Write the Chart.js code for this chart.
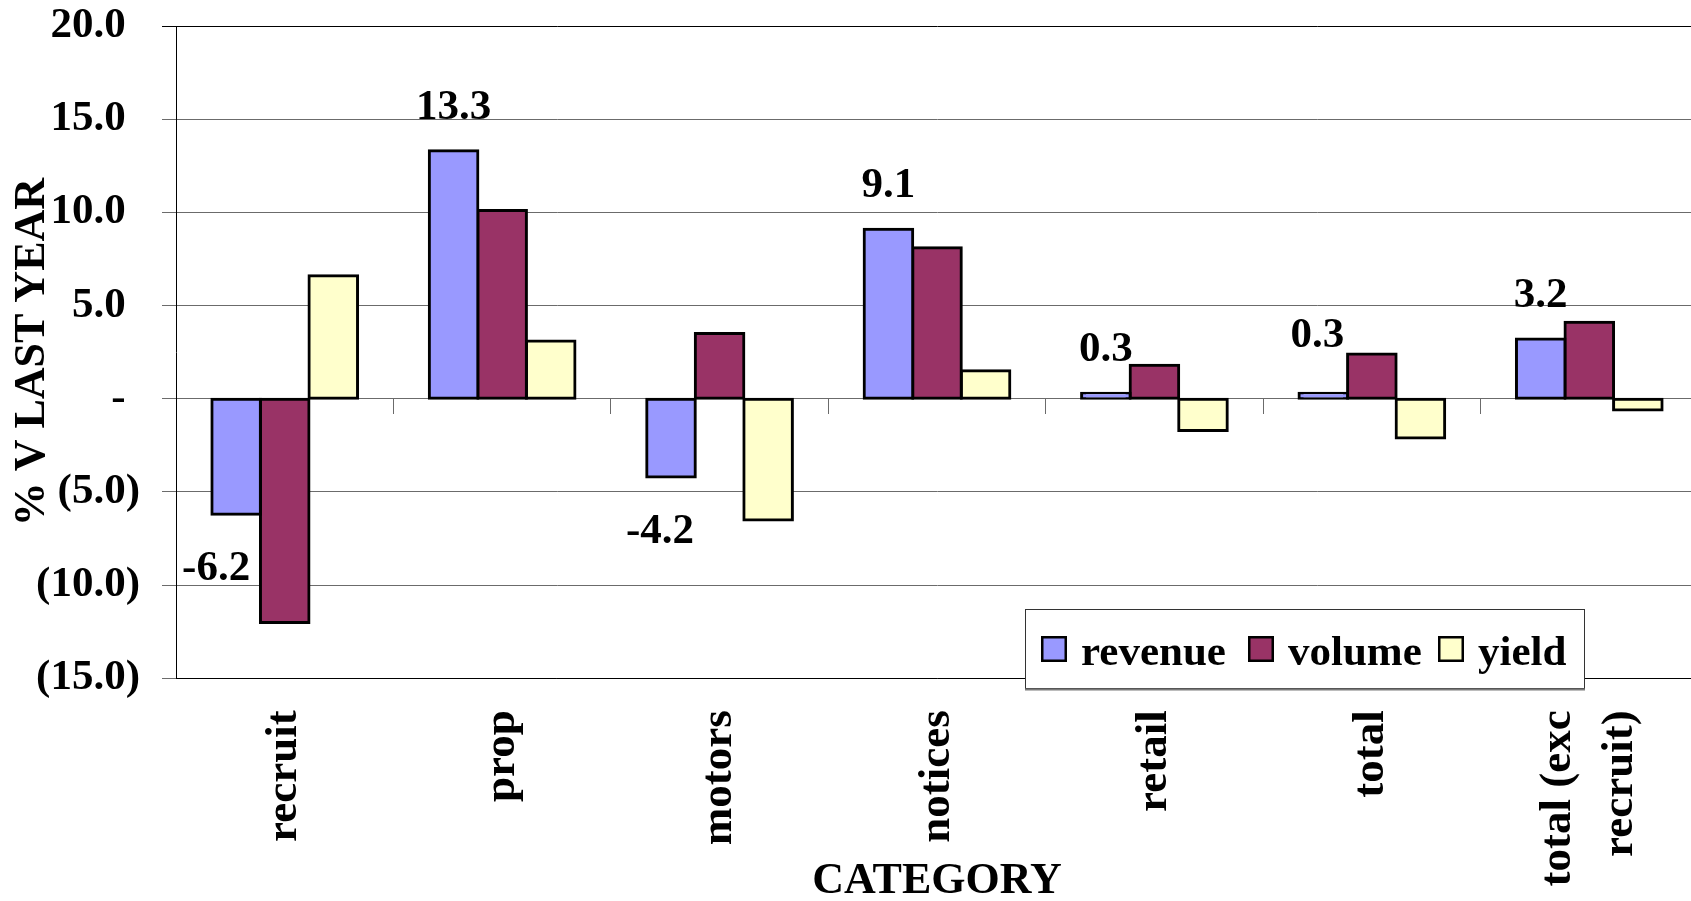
<!DOCTYPE html>
<html>
<head>
<meta charset="utf-8">
<title>% V LAST YEAR by CATEGORY</title>
<script src="https://cdn.jsdelivr.net/npm/chart.js@4/dist/chart.umd.min.js"></script>
<style>
  html, body { margin: 0; padding: 0; background: #ffffff; overflow: hidden; }
  #wrap { position: relative; width: 1698px; height: 901px; }
</style>
</head>
<body>
<div id="wrap"><canvas id="chart"></canvas></div>
<script>
// ---- data ----
const categories = ['recruit', 'prop', 'motors', 'notices', 'retail', 'total', ['total (exc', 'recruit)']];
const revenue    = [-6.2, 13.3, -4.2, 9.1, 0.3, 0.3, 3.2];
const volume     = [-12.0, 10.1, 3.5, 8.1, 1.8, 2.4, 4.1];
const yieldPct   = [6.6, 3.1, -6.5, 1.5, -1.7, -2.1, -0.6];
const seriesNames = ['revenue', 'volume', 'yield'];

// ---- styling ----
const SERIF = "'Liberation Serif', 'Times New Roman', serif";
const seriesColors = ['#9999FF', '#993366', '#FFFFCC'];
const gridGrey = '#6b6b6b';

// small hand placement of some revenue value labels (pixels)
const labelNudgeX = [-20, 0, -11, 0, 0, -6, 0];
const labelNudgeY = [0, 0, 0, 0, 0, -14, 0];

// legend box layout (pixels)
const legendBox = { x: 1025, y: 609, w: 559, h: 79 };
const legendSwatchX = [16, 223, 413];

function fmtAxis(v) {
  if (v === 0) return '-\u2004';
  if (v > 0) return v.toFixed(1) + '\u2004';
  return '(' + Math.abs(v).toFixed(1) + ')';
}

// value labels over/under the revenue bars
const revenueLabels = {
  id: 'revenueLabels',
  afterDatasetsDraw(chart) {
    const ctx = chart.ctx;
    const meta = chart.getDatasetMeta(0);
    const values = chart.data.datasets[0].data;
    ctx.save();
    ctx.font = 'bold 43px ' + SERIF;
    ctx.fillStyle = '#000';
    ctx.textAlign = 'center';
    ctx.textBaseline = 'alphabetic';
    meta.data.forEach((bar, i) => {
      const v = values[i];
      const y = v >= 0 ? bar.y - 32 : bar.y + 66;
      ctx.fillText(v.toFixed(1), bar.x + labelNudgeX[i], y + labelNudgeY[i]);
    });
    ctx.restore();
  }
};

// centre the two-line category label on its tick
const centreMultiLineTick = {
  id: 'centreMultiLineTick',
  beforeDraw(chart) {
    const xs = chart.scales.x;
    const items = xs.getLabelItems();
    items.forEach(item => {
      if (Array.isArray(item.label) && item.label.length > 1 && !item._centred) {
        item.options.translation[0] -= item.font.lineHeight * (item.label.length - 1) / 2;
        item._centred = true;
      }
    });
  }
};

// boxed legend sitting over the lower right of the plot
const boxedLegend = {
  id: 'boxedLegend',
  afterDraw(chart) {
    const ctx = chart.ctx;
    const b = legendBox;
    ctx.save();
    ctx.fillStyle = '#ffffff';
    ctx.fillRect(b.x, b.y, b.w, b.h);
    ctx.strokeStyle = '#333333';
    ctx.lineWidth = 1;
    ctx.strokeRect(b.x + 0.5, b.y + 0.5, b.w, b.h);
    ctx.strokeStyle = '#7a7a7a';
    ctx.lineWidth = 2;
    ctx.beginPath();
    ctx.moveTo(b.x, b.y + b.h + 1.5);
    ctx.lineTo(b.x + b.w + 1, b.y + b.h + 1.5);
    ctx.stroke();
    ctx.font = 'bold 43px ' + SERIF;
    ctx.textBaseline = 'alphabetic';
    ctx.textAlign = 'left';
    chart.data.datasets.forEach((ds, i) => {
      const sx = b.x + legendSwatchX[i];
      const sy = b.y + 27;
      ctx.fillStyle = ds.backgroundColor;
      ctx.fillRect(sx, sy, 26, 26);
      ctx.strokeStyle = '#000';
      ctx.lineWidth = 2.5;
      ctx.strokeRect(sx + 1.25, sy + 1.25, 23.5, 23.5);
      ctx.fillStyle = '#000';
      ctx.fillText(ds.label, sx + 40, b.y + 56);
    });
    ctx.restore();
  }
};

const makeSet = (i, data) => ({
  label: seriesNames[i],
  data: data,
  backgroundColor: seriesColors[i],
  borderColor: '#000000',
  borderWidth: 3,
  borderSkipped: false,
  inflateAmount: 1.5,
  barPercentage: 1.0,
  categoryPercentage: 0.67
});

new Chart(document.getElementById('chart'), {
  type: 'bar',
  data: {
    labels: categories,
    datasets: [makeSet(0, revenue), makeSet(1, volume), makeSet(2, yieldPct)]
  },
  options: {
    responsive: true,
    maintainAspectRatio: false,
    animation: false,
    layout: { padding: { top: 26, left: 0, right: 0, bottom: 0 } },
    plugins: {
      legend: { display: false },
      tooltip: { enabled: false }
    },
    scales: {
      x: {
        type: 'category',
        position: 'bottom',
        offset: true,
        grid: { display: false, drawTicks: false, offset: true },
        border: { display: true, color: '#000000', width: 1 },
        ticks: {
          autoSkip: false,
          minRotation: 90,
          maxRotation: 90,
          padding: 32,
          color: '#000',
          font: { family: SERIF, size: 45, weight: 'bold', lineHeight: 1.37 }
        },
        title: {
          display: true,
          text: 'CATEGORY',
          color: '#000',
          font: { family: SERIF, size: 44, weight: 'bold', lineHeight: 0.86 },
          padding: { top: 0, bottom: 0 }
        },
        afterFit(scale) {
          scale.height = 222.7;
          scale.paddingLeft = 0;
          scale.paddingRight = 0;
        }
      },
      xZero: {
        type: 'category',
        position: { y: 0 },
        offset: true,
        grid: {
          display: true,
          drawOnChartArea: false,
          drawTicks: true,
          tickLength: 15,
          offset: true,
          color: gridGrey,
          lineWidth: 1
        },
        border: { display: false },
        ticks: { display: false },
        afterFit(scale) {
          scale.height = 0;
          scale.paddingLeft = 0;
          scale.paddingRight = 0;
          scale.paddingTop = 0;
          scale.paddingBottom = 0;
        }
      },
      y: {
        min: -15,
        max: 20,
        ticks: {
          stepSize: 5,
          padding: 22,
          color: '#000',
          font: { family: SERIF, size: 43, weight: 'bold', lineHeight: 1.2 },
          callback: (v) => fmtAxis(v)
        },
        grid: {
          color: (c) => (c.tick && c.tick.value === 20) ? '#000000' : gridGrey,
          lineWidth: 1,
          drawTicks: true,
          tickLength: 14
        },
        border: { display: true, color: '#000000', width: 1 },
        title: {
          display: true,
          text: '% V LAST YEAR',
          color: '#000',
          font: { family: SERIF, size: 44, weight: 'bold', lineHeight: 1.2 },
          padding: { top: 6, bottom: 0 }
        },
        afterFit(scale) {
          scale.width = 176;
          scale.paddingTop = 0;
          scale.paddingBottom = 0;
        }
      }
    }
  },
  plugins: [centreMultiLineTick, revenueLabels, boxedLegend]
});
</script>
</body>
</html>
